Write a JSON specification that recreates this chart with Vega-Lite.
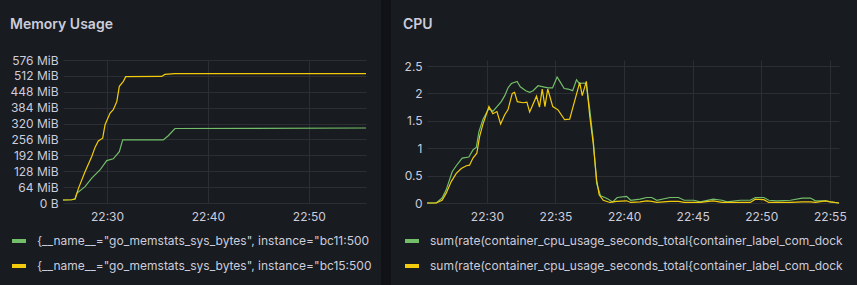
{
  "$schema": "https://vega.github.io/schema/vega-lite/v6.json",
  "background": "#181b1f",
  "padding": {"left": 10, "top": -22, "right": 10, "bottom": 0},
  "bounds": "flush",
  "center": true,
  "spacing": 15,
  "resolve": {"scale": {"color": "independent", "x": "independent", "y": "independent"}, "legend": {"color": "independent"}},
  "config": {
    "font": "Inter",
    "view": {"stroke": null},
    "axis": {"labelColor": "#ccccdc", "labelFontSize": 12, "labelFont": "Inter", "gridColor": "#2c2e34", "gridOpacity": 1, "domain": false, "ticks": false, "tickSize": 0},
    "title": {"color": "#ccccdc", "fontSize": 14, "fontWeight": 600, "font": "Inter", "anchor": "start", "frame": "bounds"},
    "legend": {"orient": "none", "direction": "vertical", "symbolType": "stroke", "symbolSize": 196, "symbolStrokeWidth": 4, "labelColor": "#ccccdc", "labelFontSize": 12, "labelFont": "Inter", "rowPadding": 8, "labelOffset": 9, "padding": 0, "labelLimit": 0, "symbolOpacity": 1}
  },
  "hconcat": [
    {
      "title": {"text": "Memory Usage", "offset": 22},
      "width": 303,
      "height": 143,
      "data": {"values": [
        {"t": "2024-01-01T22:25:38", "s": "bc11", "v": 12},
        {"t": "2024-01-01T22:26:30", "s": "bc11", "v": 13},
        {"t": "2024-01-01T22:26:50", "s": "bc11", "v": 17},
        {"t": "2024-01-01T22:27:00", "s": "bc11", "v": 39},
        {"t": "2024-01-01T22:27:49", "s": "bc11", "v": 66},
        {"t": "2024-01-01T22:28:29", "s": "bc11", "v": 100},
        {"t": "2024-01-01T22:29:18", "s": "bc11", "v": 133},
        {"t": "2024-01-01T22:29:58", "s": "bc11", "v": 171},
        {"t": "2024-01-01T22:30:37", "s": "bc11", "v": 178},
        {"t": "2024-01-01T22:31:13", "s": "bc11", "v": 207},
        {"t": "2024-01-01T22:31:33", "s": "bc11", "v": 254},
        {"t": "2024-01-01T22:35:34", "s": "bc11", "v": 254},
        {"t": "2024-01-01T22:36:04", "s": "bc11", "v": 271},
        {"t": "2024-01-01T22:36:44", "s": "bc11", "v": 300},
        {"t": "2024-01-01T22:55:40", "s": "bc11", "v": 302},
        {"t": "2024-01-01T22:25:38", "s": "bc15", "v": 12},
        {"t": "2024-01-01T22:26:30", "s": "bc15", "v": 13},
        {"t": "2024-01-01T22:26:50", "s": "bc15", "v": 16},
        {"t": "2024-01-01T22:27:10", "s": "bc15", "v": 59},
        {"t": "2024-01-01T22:27:49", "s": "bc15", "v": 126},
        {"t": "2024-01-01T22:28:29", "s": "bc15", "v": 187},
        {"t": "2024-01-01T22:28:49", "s": "bc15", "v": 225},
        {"t": "2024-01-01T22:29:08", "s": "bc15", "v": 250},
        {"t": "2024-01-01T22:29:34", "s": "bc15", "v": 261},
        {"t": "2024-01-01T22:29:48", "s": "bc15", "v": 315},
        {"t": "2024-01-01T22:30:18", "s": "bc15", "v": 362},
        {"t": "2024-01-01T22:30:37", "s": "bc15", "v": 376},
        {"t": "2024-01-01T22:30:58", "s": "bc15", "v": 409},
        {"t": "2024-01-01T22:31:13", "s": "bc15", "v": 470},
        {"t": "2024-01-01T22:31:37", "s": "bc15", "v": 490},
        {"t": "2024-01-01T22:31:51", "s": "bc15", "v": 509},
        {"t": "2024-01-01T22:35:25", "s": "bc15", "v": 510},
        {"t": "2024-01-01T22:35:44", "s": "bc15", "v": 518},
        {"t": "2024-01-01T22:36:44", "s": "bc15", "v": 521},
        {"t": "2024-01-01T22:55:40", "s": "bc15", "v": 521}
      ]},
      "mark": {"type": "line", "strokeWidth": 1.2},
      "encoding": {
        "x": {"field": "t", "type": "temporal", "title": null,
          "scale": {"nice": false},
          "axis": {"labelExpr": "minutes(datum.value) % 10 == 0 ? timeFormat(datum.value, '%H:%M') : ''", "gridOpacity": {"condition": {"test": "minutes(datum.value) % 10 != 0", "value": 0}, "value": 1}, "labelPadding": 8, "labelOverlap": false, "labelFlush": false}},
        "y": {"field": "v", "type": "quantitative", "title": null,
          "scale": {"domain": [0, 576], "nice": false},
          "axis": {"values": [0, 64, 128, 192, 256, 320, 384, 448, 512, 576], "labelExpr": "datum.value == 0 ? '0 B' : datum.value + ' MiB'", "labelPadding": 5}},
        "color": {"field": "s", "type": "nominal",
          "scale": {"domain": ["bc11", "bc15"], "range": ["#73bf69", "#f2cc0c"]},
          "legend": {"title": null, "legendX": -53, "legendY": 172, "labelExpr": "'{__name__=\"go_memstats_sys_bytes\", instance=\"' + datum.label + ':500'"}}
      }
    },
    {
      "width": 10,
      "height": 307,
      "data": {"values": [{"a": 1}]},
      "mark": {"type": "rect", "color": "#111217"}
    },
    {
      "width": 6,
      "height": 1,
      "data": {"values": [{"a": 1}]},
      "mark": {"type": "rect", "opacity": 0}
    },
    {
      "title": {"text": "CPU", "offset": 28},
      "width": 412,
      "height": 143,
      "data": {"values": [
        {"t": "2024-01-01T22:25:38", "s": "bc11", "v": 0},
        {"t": "2024-01-01T22:26:18", "s": "bc11", "v": 0},
        {"t": "2024-01-01T22:26:44", "s": "bc11", "v": 0.09},
        {"t": "2024-01-01T22:27:02", "s": "bc11", "v": 0.24},
        {"t": "2024-01-01T22:27:28", "s": "bc11", "v": 0.57},
        {"t": "2024-01-01T22:27:46", "s": "bc11", "v": 0.68},
        {"t": "2024-01-01T22:28:12", "s": "bc11", "v": 0.82},
        {"t": "2024-01-01T22:28:41", "s": "bc11", "v": 0.84},
        {"t": "2024-01-01T22:28:59", "s": "bc11", "v": 0.97},
        {"t": "2024-01-01T22:29:14", "s": "bc11", "v": 1.02},
        {"t": "2024-01-01T22:29:25", "s": "bc11", "v": 1.3},
        {"t": "2024-01-01T22:29:42", "s": "bc11", "v": 1.52},
        {"t": "2024-01-01T22:30:09", "s": "bc11", "v": 1.73},
        {"t": "2024-01-01T22:30:26", "s": "bc11", "v": 1.67},
        {"t": "2024-01-01T22:30:44", "s": "bc11", "v": 1.76},
        {"t": "2024-01-01T22:31:03", "s": "bc11", "v": 1.85},
        {"t": "2024-01-01T22:31:18", "s": "bc11", "v": 1.96},
        {"t": "2024-01-01T22:31:32", "s": "bc11", "v": 2.1},
        {"t": "2024-01-01T22:31:47", "s": "bc11", "v": 2.18},
        {"t": "2024-01-01T22:32:12", "s": "bc11", "v": 2.22},
        {"t": "2024-01-01T22:32:26", "s": "bc11", "v": 2.12},
        {"t": "2024-01-01T22:32:50", "s": "bc11", "v": 2.05},
        {"t": "2024-01-01T22:33:07", "s": "bc11", "v": 2.02},
        {"t": "2024-01-01T22:33:22", "s": "bc11", "v": 2.05},
        {"t": "2024-01-01T22:33:44", "s": "bc11", "v": 2.14},
        {"t": "2024-01-01T22:34:06", "s": "bc11", "v": 2.12},
        {"t": "2024-01-01T22:34:28", "s": "bc11", "v": 2.1},
        {"t": "2024-01-01T22:34:47", "s": "bc11", "v": 2.1},
        {"t": "2024-01-01T22:35:07", "s": "bc11", "v": 2.3},
        {"t": "2024-01-01T22:35:19", "s": "bc11", "v": 2.22},
        {"t": "2024-01-01T22:35:38", "s": "bc11", "v": 2.09},
        {"t": "2024-01-01T22:35:55", "s": "bc11", "v": 2.08},
        {"t": "2024-01-01T22:36:15", "s": "bc11", "v": 2.05},
        {"t": "2024-01-01T22:36:32", "s": "bc11", "v": 2.25},
        {"t": "2024-01-01T22:36:44", "s": "bc11", "v": 2.18},
        {"t": "2024-01-01T22:37:04", "s": "bc11", "v": 2.19},
        {"t": "2024-01-01T22:37:14", "s": "bc11", "v": 2.18},
        {"t": "2024-01-01T22:37:30", "s": "bc11", "v": 1.7},
        {"t": "2024-01-01T22:37:45", "s": "bc11", "v": 1.15},
        {"t": "2024-01-01T22:38:00", "s": "bc11", "v": 0.36},
        {"t": "2024-01-01T22:38:17", "s": "bc11", "v": 0.13},
        {"t": "2024-01-01T22:38:36", "s": "bc11", "v": 0.1},
        {"t": "2024-01-01T22:38:51", "s": "bc11", "v": 0.07},
        {"t": "2024-01-01T22:39:10", "s": "bc11", "v": 0.02},
        {"t": "2024-01-01T22:39:30", "s": "bc11", "v": 0.1},
        {"t": "2024-01-01T22:40:11", "s": "bc11", "v": 0.12},
        {"t": "2024-01-01T22:40:29", "s": "bc11", "v": 0.05},
        {"t": "2024-01-01T22:41:10", "s": "bc11", "v": 0.07},
        {"t": "2024-01-01T22:41:39", "s": "bc11", "v": 0.1},
        {"t": "2024-01-01T22:42:01", "s": "bc11", "v": 0.1},
        {"t": "2024-01-01T22:42:23", "s": "bc11", "v": 0.05},
        {"t": "2024-01-01T22:43:21", "s": "bc11", "v": 0.1},
        {"t": "2024-01-01T22:43:58", "s": "bc11", "v": 0.1},
        {"t": "2024-01-01T22:44:23", "s": "bc11", "v": 0.05},
        {"t": "2024-01-01T22:45:04", "s": "bc11", "v": 0.05},
        {"t": "2024-01-01T22:45:33", "s": "bc11", "v": 0.02},
        {"t": "2024-01-01T22:46:30", "s": "bc11", "v": 0.07},
        {"t": "2024-01-01T22:47:08", "s": "bc11", "v": 0.05},
        {"t": "2024-01-01T22:47:30", "s": "bc11", "v": 0.02},
        {"t": "2024-01-01T22:48:28", "s": "bc11", "v": 0.05},
        {"t": "2024-01-01T22:49:12", "s": "bc11", "v": 0.05},
        {"t": "2024-01-01T22:49:34", "s": "bc11", "v": 0.1},
        {"t": "2024-01-01T22:50:11", "s": "bc11", "v": 0.1},
        {"t": "2024-01-01T22:50:33", "s": "bc11", "v": 0.05},
        {"t": "2024-01-01T22:51:09", "s": "bc11", "v": 0.04},
        {"t": "2024-01-01T22:52:08", "s": "bc11", "v": 0.05},
        {"t": "2024-01-01T22:52:59", "s": "bc11", "v": 0.09},
        {"t": "2024-01-01T22:53:35", "s": "bc11", "v": 0.09},
        {"t": "2024-01-01T22:53:57", "s": "bc11", "v": 0.04},
        {"t": "2024-01-01T22:54:41", "s": "bc11", "v": 0.04},
        {"t": "2024-01-01T22:55:03", "s": "bc11", "v": 0.02},
        {"t": "2024-01-01T22:55:40", "s": "bc11", "v": 0},
        {"t": "2024-01-01T22:25:38", "s": "bc15", "v": 0},
        {"t": "2024-01-01T22:26:18", "s": "bc15", "v": 0},
        {"t": "2024-01-01T22:26:44", "s": "bc15", "v": 0.05},
        {"t": "2024-01-01T22:27:02", "s": "bc15", "v": 0.18},
        {"t": "2024-01-01T22:27:24", "s": "bc15", "v": 0.39},
        {"t": "2024-01-01T22:27:46", "s": "bc15", "v": 0.54},
        {"t": "2024-01-01T22:28:08", "s": "bc15", "v": 0.63},
        {"t": "2024-01-01T22:28:30", "s": "bc15", "v": 0.68},
        {"t": "2024-01-01T22:28:44", "s": "bc15", "v": 0.69},
        {"t": "2024-01-01T22:28:59", "s": "bc15", "v": 0.82},
        {"t": "2024-01-01T22:29:16", "s": "bc15", "v": 0.91},
        {"t": "2024-01-01T22:29:28", "s": "bc15", "v": 1.21},
        {"t": "2024-01-01T22:29:42", "s": "bc15", "v": 1.43},
        {"t": "2024-01-01T22:30:09", "s": "bc15", "v": 1.76},
        {"t": "2024-01-01T22:30:26", "s": "bc15", "v": 1.63},
        {"t": "2024-01-01T22:30:44", "s": "bc15", "v": 1.67},
        {"t": "2024-01-01T22:31:00", "s": "bc15", "v": 1.44},
        {"t": "2024-01-01T22:31:18", "s": "bc15", "v": 1.61},
        {"t": "2024-01-01T22:31:32", "s": "bc15", "v": 1.7},
        {"t": "2024-01-01T22:31:51", "s": "bc15", "v": 2.0},
        {"t": "2024-01-01T22:32:01", "s": "bc15", "v": 2.02},
        {"t": "2024-01-01T22:32:13", "s": "bc15", "v": 1.85},
        {"t": "2024-01-01T22:32:38", "s": "bc15", "v": 1.83},
        {"t": "2024-01-01T22:32:55", "s": "bc15", "v": 1.84},
        {"t": "2024-01-01T22:33:07", "s": "bc15", "v": 1.66},
        {"t": "2024-01-01T22:33:37", "s": "bc15", "v": 1.95},
        {"t": "2024-01-01T22:33:50", "s": "bc15", "v": 1.75},
        {"t": "2024-01-01T22:34:02", "s": "bc15", "v": 2.08},
        {"t": "2024-01-01T22:34:14", "s": "bc15", "v": 1.76},
        {"t": "2024-01-01T22:34:26", "s": "bc15", "v": 2.08},
        {"t": "2024-01-01T22:34:48", "s": "bc15", "v": 1.76},
        {"t": "2024-01-01T22:35:11", "s": "bc15", "v": 1.7},
        {"t": "2024-01-01T22:35:40", "s": "bc15", "v": 1.52},
        {"t": "2024-01-01T22:36:02", "s": "bc15", "v": 1.53},
        {"t": "2024-01-01T22:36:46", "s": "bc15", "v": 2.2},
        {"t": "2024-01-01T22:36:57", "s": "bc15", "v": 1.96},
        {"t": "2024-01-01T22:37:15", "s": "bc15", "v": 2.22},
        {"t": "2024-01-01T22:37:30", "s": "bc15", "v": 1.58},
        {"t": "2024-01-01T22:37:45", "s": "bc15", "v": 1.09},
        {"t": "2024-01-01T22:38:00", "s": "bc15", "v": 0.42},
        {"t": "2024-01-01T22:38:11", "s": "bc15", "v": 0.15},
        {"t": "2024-01-01T22:38:29", "s": "bc15", "v": 0.05},
        {"t": "2024-01-01T22:38:58", "s": "bc15", "v": 0.01},
        {"t": "2024-01-01T22:39:27", "s": "bc15", "v": 0.03},
        {"t": "2024-01-01T22:40:11", "s": "bc15", "v": 0.04},
        {"t": "2024-01-01T22:40:29", "s": "bc15", "v": 0.01},
        {"t": "2024-01-01T22:41:10", "s": "bc15", "v": 0.02},
        {"t": "2024-01-01T22:41:39", "s": "bc15", "v": 0.04},
        {"t": "2024-01-01T22:42:01", "s": "bc15", "v": 0.03},
        {"t": "2024-01-01T22:42:23", "s": "bc15", "v": 0.01},
        {"t": "2024-01-01T22:43:21", "s": "bc15", "v": 0.03},
        {"t": "2024-01-01T22:43:58", "s": "bc15", "v": 0.03},
        {"t": "2024-01-01T22:44:23", "s": "bc15", "v": 0.01},
        {"t": "2024-01-01T22:45:04", "s": "bc15", "v": 0.01},
        {"t": "2024-01-01T22:45:33", "s": "bc15", "v": 0.01},
        {"t": "2024-01-01T22:46:30", "s": "bc15", "v": 0.04},
        {"t": "2024-01-01T22:47:08", "s": "bc15", "v": 0.01},
        {"t": "2024-01-01T22:48:28", "s": "bc15", "v": 0.01},
        {"t": "2024-01-01T22:49:12", "s": "bc15", "v": 0.01},
        {"t": "2024-01-01T22:49:34", "s": "bc15", "v": 0.07},
        {"t": "2024-01-01T22:50:11", "s": "bc15", "v": 0.06},
        {"t": "2024-01-01T22:50:33", "s": "bc15", "v": 0.01},
        {"t": "2024-01-01T22:51:09", "s": "bc15", "v": 0.01},
        {"t": "2024-01-01T22:52:08", "s": "bc15", "v": 0.01},
        {"t": "2024-01-01T22:52:59", "s": "bc15", "v": 0.02},
        {"t": "2024-01-01T22:53:35", "s": "bc15", "v": 0.02},
        {"t": "2024-01-01T22:53:57", "s": "bc15", "v": 0.01},
        {"t": "2024-01-01T22:54:41", "s": "bc15", "v": 0.04},
        {"t": "2024-01-01T22:55:03", "s": "bc15", "v": 0.02},
        {"t": "2024-01-01T22:55:40", "s": "bc15", "v": 0}
      ]},
      "mark": {"type": "line", "strokeWidth": 1.2},
      "encoding": {
        "x": {"field": "t", "type": "temporal", "title": null,
          "scale": {"nice": false},
          "axis": {"format": "%H:%M", "labelPadding": 8, "labelOverlap": false, "labelFlush": false}},
        "y": {"field": "v", "type": "quantitative", "title": null,
          "scale": {"domain": [0, 2.61], "nice": false},
          "axis": {"values": [0, 0.5, 1, 1.5, 2, 2.5], "format": "~g", "labelPadding": 5}},
        "color": {"field": "s", "type": "nominal",
          "scale": {"domain": ["bc11", "bc15"], "range": ["#73bf69", "#f2cc0c"]},
          "legend": {"title": null, "legendX": -24, "legendY": 172, "labelExpr": "'sum(rate(container_cpu_usage_seconds_total{container_label_com_dock'"}}
      }
    }
  ]
}
